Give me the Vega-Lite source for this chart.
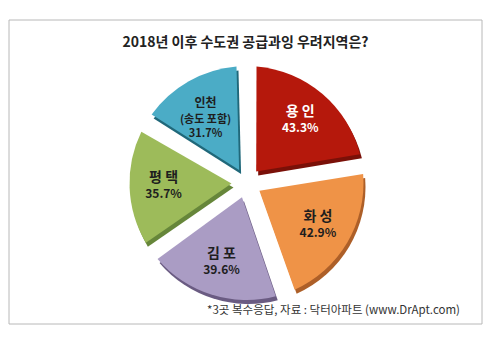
{
  "$schema": "https://vega.github.io/schema/vega-lite/v6.json",
  "width": 473,
  "height": 304,
  "autosize": {"type": "none"},
  "padding": {"left": 9, "top": 20, "right": 18, "bottom": 40},
  "background": "white",
  "config": {"view": {"stroke": null}, "font": "Noto Sans CJK KR"},
  "title": {
    "text": "2018년 이후 수도권 공급과잉 우려지역은?",
    "orient": "top",
    "anchor": "middle",
    "frame": "group",
    "offset": -30,
    "fontSize": 14,
    "fontWeight": "bold",
    "color": "#222222",
    "font": "Noto Sans CJK KR"
  },
  "datasets": {
    "regions": [
      {"region": "용인", "name": "용 인", "pct": "43.3%", "value": 43.3},
      {"region": "화성", "name": "화 성", "pct": "42.9%", "value": 42.9},
      {"region": "김포", "name": "김 포", "pct": "39.6%", "value": 39.6},
      {"region": "평택", "name": "평 택", "pct": "35.7%", "value": 35.7},
      {"region": "인천", "name": "인천", "pct": "(송도 포함)\n31.7%", "value": 31.7}
    ],
    "note": [
      {"note": "*3곳 복수응답, 자료 : 닥터아파트 (www.DrApt.com)"}
    ]
  },
  "layer": [
    {
      "data": {"name": "note"},
      "mark": {"type": "rect", "fill": null, "stroke": "#b8b8b8", "strokeWidth": 1},
      "encoding": {
        "x": {"value": 0}, "x2": {"value": "width"},
        "y": {"value": 0}, "y2": {"value": "height"}
      }
    },
    {
      "data": {"name": "regions"},
      "mark": {"type": "arc", "outerRadius": 117, "innerRadius": 15, "padAngle": 0.17, "x": {"expr": "width/2+3"}, "y": {"expr": "height/2+15"}},
      "encoding": {
        "theta": {"field": "value", "type": "quantitative", "stack": true},
        "order": {"field": "value", "sort": "descending"},
        "color": {"field": "region", "type": "nominal", "legend": null,
          "scale": {"domain": ["용인", "화성", "김포", "평택", "인천"], "range": ["#7a1008", "#ad5f28", "#6a5b82", "#66863a", "#20687a"]}}
      }
    },
    {
      "data": {"name": "regions"},
      "mark": {"type": "arc", "outerRadius": 117, "innerRadius": 15, "padAngle": 0.17, "x": {"expr": "width/2+1"}, "y": {"expr": "height/2+11"}},
      "encoding": {
        "theta": {"field": "value", "type": "quantitative", "stack": true},
        "order": {"field": "value", "sort": "descending"},
        "color": {"field": "region", "type": "nominal", "legend": null,
          "scale": {"domain": ["용인", "화성", "김포", "평택", "인천"], "range": ["#b5180c", "#ef9347", "#aa9cc4", "#9dbb5a", "#4bacc6"]}}
      }
    },
    {
      "data": {"name": "regions"},
      "mark": {"type": "text", "radius": 83, "baseline": "bottom", "dy": -1, "fontWeight": "bold", "x": {"expr": "width/2+1"}, "y": {"expr": "height/2+11"}},
      "encoding": {
        "theta": {"field": "value", "type": "quantitative", "stack": true},
        "order": {"field": "value", "sort": "descending"},
        "text": {"field": "name", "type": "nominal"},
        "size": {"condition": {"test": "datum.region === '인천'", "value": 12}, "value": 14},
        "color": {"condition": {"test": "datum.region === '용인'", "value": "#ffffff"}, "value": "#1e1e1e"}
      }
    },
    {
      "data": {"name": "regions"},
      "mark": {"type": "text", "radius": 83, "baseline": "top", "dy": 3, "fontWeight": "bold", "lineBreak": "\n", "lineHeight": 14, "x": {"expr": "width/2+1"}, "y": {"expr": "height/2+11"}},
      "encoding": {
        "theta": {"field": "value", "type": "quantitative", "stack": true},
        "order": {"field": "value", "sort": "descending"},
        "text": {"field": "pct", "type": "nominal"},
        "size": {"condition": {"test": "datum.region === '인천'", "value": 11}, "value": 12},
        "color": {"condition": {"test": "datum.region === '용인'", "value": "#ffffff"}, "value": "#1e1e1e"}
      }
    },
    {
      "data": {"name": "note"},
      "mark": {"type": "text", "align": "right", "baseline": "middle", "x": {"expr": "width-22"}, "y": {"expr": "height-13"}, "fontSize": 11.5, "color": "#333333"},
      "encoding": {"text": {"field": "note", "type": "nominal"}}
    }
  ],
  "resolve": {"scale": {"color": "independent"}}
}
